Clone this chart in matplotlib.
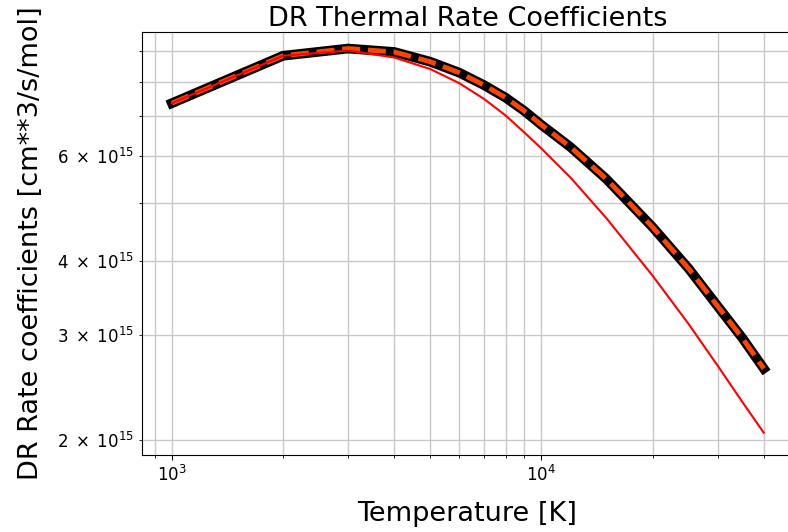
import numpy as np
import matplotlib
matplotlib.use('Agg')
from matplotlib import pyplot as plt
from matplotlib.ticker import FixedLocator, FuncFormatter, NullFormatter

# temperature grid [K]
temperature = [1000, 2000, 3000, 4000, 5000, 6000, 7000, 8000, 9000, 10000,
               12000, 15000, 20000, 25000, 30000, 35000, 40000]

# total DR rate coefficients [cm**3/s/mol]
rate_total = [7.36e15, 8.84e15, 9.09e15, 8.97e15, 8.64e15, 8.28e15, 7.89e15, 7.52e15, 7.14e15, 6.77e15,
              6.21e15, 5.49e15, 4.56e15, 3.89e15, 3.36e15, 2.97e15, 2.64e15]

# partial contribution
rate_partial = [7.36e15, 8.84e15, 9.02e15, 8.78e15, 8.40e15, 7.95e15, 7.48e15, 7.02e15, 6.57e15, 6.18e15,
                5.52e15, 4.72e15, 3.78e15, 3.14e15, 2.67e15, 2.32e15, 2.06e15]

# labelled rate ticks
ytick_values = [2e15, 3e15, 4e15, 6e15]


def sci_label(value, pos):
    if not any(abs(value - t) < 1e13 for t in ytick_values):
        return ''
    exp = int(np.floor(np.log10(value)))
    coeff = int(round(value / 10 ** exp))
    return r'$\mathdefault{%d\;\times\;10^{%d}}$' % (coeff, exp)


def plot_rates():
    fig = plt.figure(figsize=(7.88, 5.32), dpi=100)
    ax = fig.add_axes([142 / 788, 77 / 532, 651 / 788, 423 / 532])

    ax.plot(temperature, rate_total, color='black', linewidth=7, solid_capstyle='projecting')
    ax.plot(temperature, rate_total, color='orangered', linewidth=3.5, linestyle='--')
    ax.plot(temperature, rate_partial, color='red', linewidth=1.5)

    ax.set_xscale('log')
    ax.set_yscale('log')
    ax.set_xlim(830, 48000)
    ax.set_ylim(1.89e15, 9.69e15)

    ax.yaxis.set_major_formatter(NullFormatter())
    ax.yaxis.set_minor_locator(FixedLocator([k * 1e15 for k in range(2, 10)]))
    ax.yaxis.set_minor_formatter(FuncFormatter(sci_label))

    ax.grid(True, which='both', color='#c8c8c8', linewidth=1)
    ax.tick_params(which='both', labelsize=12)

    ax.set_title('DR Thermal Rate Coefficients', fontsize=19.5, pad=4)
    ax.set_xlabel('Temperature [K]', fontsize=19.5, labelpad=12)
    ax.set_ylabel('DR Rate coefficients [cm**3/s/mol]', fontsize=19.5, labelpad=10)

    fig.savefig('out.png')


if __name__ == '__main__':
    plot_rates()
